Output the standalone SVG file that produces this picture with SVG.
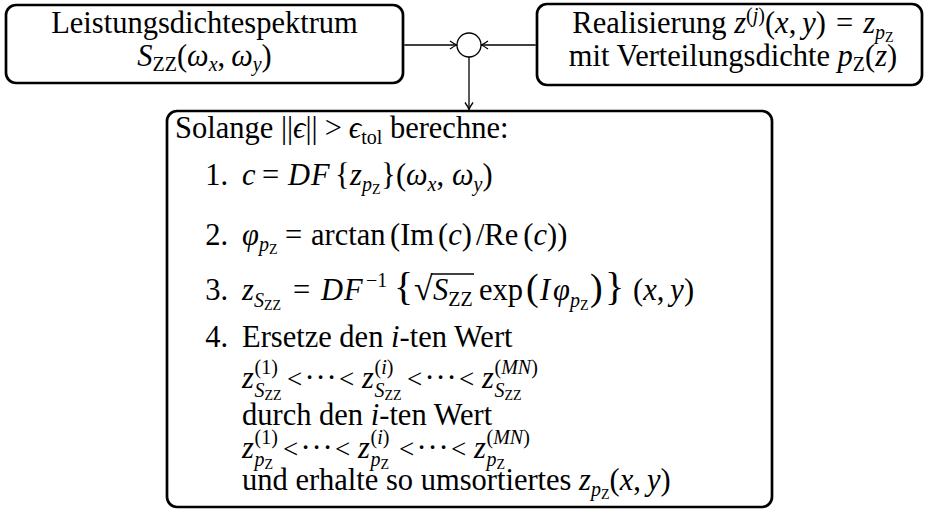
<svg xmlns="http://www.w3.org/2000/svg" width="926" height="511" viewBox="0 0 926 511">
<defs>
<style>
text { font-family: "Liberation Serif", "Times New Roman", "Noto Serif", "DejaVu Serif", serif; font-size: 30.5px; fill: #000; }
.i { font-style: italic; }
.s1 { font-size: 20px; }
.s2 { font-size: 14px; }
.big { font-size: 40px; }
.par { font-size: 38px; }
.rt { font-size: 34px; }
.rel { font-size: 27px; }
.box { fill: #fff; stroke: #000; stroke-width: 2.7; }
.conn { stroke: #000; stroke-width: 1.3; fill: none; }
</style>
<marker id="arr" markerWidth="12" markerHeight="12" viewBox="-10 -6 12 12" refX="0" refY="0" orient="auto" markerUnits="userSpaceOnUse">
<path d="M-7,-4 Q-2.5,-0.8 0,0 Q-2.5,0.8 -7,4" fill="none" stroke="#000" stroke-width="1.3"/>
</marker>
</defs>
<rect width="926" height="511" fill="#fff"/>

<g id="connectors">
<line class="conn" x1="404.3" y1="45" x2="457" y2="45" marker-end="url(#arr)"/>
<line class="conn" x1="535.7" y1="45" x2="481" y2="45" marker-end="url(#arr)"/>
<line class="conn" x1="469" y1="57" x2="469" y2="109.5" marker-end="url(#arr)"/>
</g>

<g id="node-spectrum">
<rect class="box" x="6" y="5" width="397" height="78" rx="10"/>
<text x="204.5" y="33" text-anchor="middle">Leistungsdichtespektrum</text>
<text x="204.5" y="66" text-anchor="middle"><tspan class="i">S</tspan><tspan class="s1" dy="5">ZZ</tspan><tspan dy="-5">(</tspan><tspan class="i">ω</tspan><tspan class="i s1" dy="5">x</tspan><tspan dy="-5">,</tspan><tspan class="i" dx="6">ω</tspan><tspan class="i s1" dy="5">y</tspan><tspan dy="-5">)</tspan></text>
</g>

<g id="node-sum">
<circle cx="469" cy="45" r="12" fill="#fff" stroke="#000" stroke-width="1.3"/>
</g>

<g id="node-realisation">
<rect class="box" x="537" y="4" width="385" height="81" rx="10"/>
<text x="733" y="33" text-anchor="middle">Realisierung <tspan class="i">z</tspan><tspan class="s1" dy="-11">(<tspan class="i">j</tspan>)</tspan><tspan dy="11">(</tspan><tspan class="i">x</tspan>,<tspan class="i" dx="6">y</tspan>)<tspan dx="10">=</tspan><tspan class="i" dx="10">z</tspan><tspan class="i s1" dy="6">p</tspan><tspan class="s2" dy="3">Z</tspan></text>
<text x="733" y="66" text-anchor="middle">mit Verteilungsdichte <tspan class="i">p</tspan><tspan class="s1" dy="5">Z</tspan><tspan dy="-5">(</tspan><tspan class="i">z</tspan>)</text>
</g>

<g id="node-algorithm">
<rect class="box" x="167" y="111" width="605" height="396" rx="10"/>
<text x="175" y="138">Solange ||<tspan class="i">ϵ</tspan>||<tspan dx="7">&gt;</tspan><tspan class="i" dx="7">ϵ</tspan><tspan class="s1" dy="6">tol</tspan><tspan dy="-6"> berechne:</tspan></text>

<text x="228" y="185" text-anchor="end">1.</text>
<text y="185"><tspan class="i" x="242">c</tspan><tspan x="262">=</tspan><tspan class="i" x="288">D</tspan><tspan class="i" x="311">F</tspan><tspan x="335">{</tspan><tspan class="i" x="350">z</tspan><tspan class="i s1" dy="6">p</tspan><tspan class="s2" dy="3">Z</tspan><tspan x="381" dy="-9">}</tspan><tspan x="396">(</tspan><tspan class="i" x="406">ω</tspan><tspan class="i s1" dy="6">x</tspan><tspan dy="-6">,</tspan><tspan class="i" x="452">ω</tspan><tspan class="i s1" dy="6">y</tspan><tspan dy="-6">)</tspan></text>

<text x="228" y="245" text-anchor="end">2.</text>
<text y="245"><tspan class="i" x="242">φ</tspan><tspan class="i s1" dy="6">p</tspan><tspan class="s2" dy="3">Z</tspan><tspan x="285" dy="-9">=</tspan><tspan x="311">arctan</tspan><tspan x="390">(Im</tspan><tspan x="438">(</tspan><tspan class="i">c</tspan>)<tspan dx="4">/Re</tspan><tspan dx="5">(</tspan><tspan class="i">c</tspan>))</text>

<text x="228" y="300" text-anchor="end">3.</text>
<text y="300"><tspan class="i" x="242">z</tspan><tspan class="i s1" dy="7">S</tspan><tspan class="s2" dy="3">ZZ</tspan><tspan x="293" dy="-10">=</tspan><tspan class="i" x="321">D</tspan><tspan class="i" x="344">F</tspan><tspan class="s1" x="366" dy="-13">−1</tspan><tspan class="big" x="394" dy="13">{</tspan><tspan class="rt" x="414">√</tspan><tspan class="i" x="433">S</tspan><tspan class="s1" dy="6">ZZ</tspan><tspan x="479" dy="-6">exp</tspan><tspan class="par" x="526">(</tspan><tspan class="i" x="540">I</tspan><tspan class="i" x="553">φ</tspan><tspan class="i s1" dy="7">p</tspan><tspan class="s2" dy="3">Z</tspan><tspan class="par" x="590" dy="-10">)</tspan><tspan class="big" x="605">}</tspan><tspan x="633">(</tspan><tspan class="i">x</tspan>,<tspan class="i" dx="6">y</tspan>)</text>
<line x1="431" y1="274" x2="474" y2="274" stroke="#000" stroke-width="1.4"/>

<text x="228" y="347" text-anchor="end">4.</text>
<text x="242" y="347">Ersetze den <tspan class="i">i</tspan>-ten Wert</text>

<g id="order-s">
<text class="i" x="242" y="388">z</text>
<text x="254.5" y="397"><tspan class="i s1">S</tspan><tspan class="s2" dy="3">ZZ</tspan></text>
<text class="s1" x="254.5" y="374">(1)</text>
<text class="rel" x="287" y="388">&lt;</text>
<text x="304.5 315.5 326.5" y="388">···</text>
<text class="rel" x="339" y="388">&lt;</text>
<text class="i" x="362" y="388">z</text>
<text x="374.5" y="397"><tspan class="i s1">S</tspan><tspan class="s2" dy="3">ZZ</tspan></text>
<text class="s1" x="374.5" y="374">(<tspan class="i">i</tspan>)</text>
<text class="rel" x="407" y="388">&lt;</text>
<text x="424.5 435.5 446.5" y="388">···</text>
<text class="rel" x="459" y="388">&lt;</text>
<text class="i" x="482" y="388">z</text>
<text x="494.5" y="397"><tspan class="i s1">S</tspan><tspan class="s2" dy="3">ZZ</tspan></text>
<text class="s1" x="494.5" y="374">(<tspan class="i">MN</tspan>)</text>
</g>

<text x="242" y="425">durch den <tspan class="i">i</tspan>-ten Wert</text>

<g id="order-p">
<text class="i" x="242" y="458">z</text>
<text x="254.5" y="466"><tspan class="i s1">p</tspan><tspan class="s2" dy="3">Z</tspan></text>
<text class="s1" x="254.5" y="444">(1)</text>
<text class="rel" x="283" y="458">&lt;</text>
<text x="300.5 311.5 322.5" y="458">···</text>
<text class="rel" x="335" y="458">&lt;</text>
<text class="i" x="358" y="458">z</text>
<text x="370.5" y="466"><tspan class="i s1">p</tspan><tspan class="s2" dy="3">Z</tspan></text>
<text class="s1" x="370.5" y="444">(<tspan class="i">i</tspan>)</text>
<text class="rel" x="399" y="458">&lt;</text>
<text x="416.5 427.5 438.5" y="458">···</text>
<text class="rel" x="451" y="458">&lt;</text>
<text class="i" x="474" y="458">z</text>
<text x="486.5" y="466"><tspan class="i s1">p</tspan><tspan class="s2" dy="3">Z</tspan></text>
<text class="s1" x="486.5" y="444">(<tspan class="i">MN</tspan>)</text>
</g>

<text x="242" y="490">und erhalte so umsortiertes <tspan class="i">z</tspan><tspan class="i s1" dy="6">p</tspan><tspan class="s2" dy="3">Z</tspan><tspan dy="-9">(</tspan><tspan class="i">x</tspan>,<tspan class="i" dx="6">y</tspan>)</text>
</g>
</svg>
